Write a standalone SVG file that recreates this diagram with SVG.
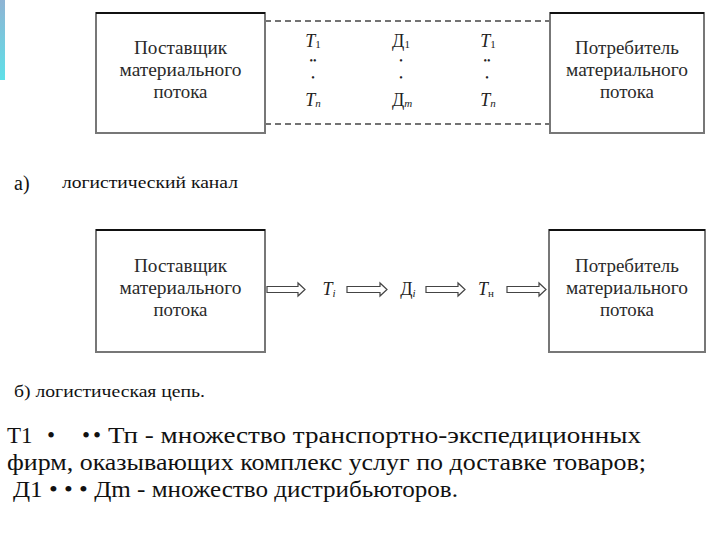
<svg xmlns="http://www.w3.org/2000/svg" width="720" height="540" viewBox="0 0 720 540">
<defs>
<linearGradient id="bar" x1="0" y1="0" x2="0" y2="1">
<stop offset="0" stop-color="#8fb4d4"/>
<stop offset="1" stop-color="#5fe0e8"/>
</linearGradient>
<style>
.box{fill:#fff;stroke:#777;stroke-width:2}
.boxtop{stroke:#111;stroke-width:2}
.dash{stroke:#444;stroke-width:1.5;stroke-dasharray:6 4;fill:none}
.arr{fill:#fff;stroke:#444;stroke-width:1.2}
.bt{font-family:"Liberation Serif",serif;font-size:19px;fill:#2a2a2a;text-anchor:middle}
.sym{font-family:"Liberation Serif",serif;font-size:18px;fill:#222;text-anchor:middle}
.dot{font-family:"Liberation Serif",serif;font-size:10px;fill:#222;text-anchor:middle}
.lbl{font-family:"Liberation Serif",serif;fill:#111}
.main{font-family:"Liberation Serif",serif;font-size:23px;fill:#111}
</style>
</defs>
<rect width="720" height="540" fill="#fff"/>
<rect x="0" y="0" width="5" height="80" fill="url(#bar)"/>

<g id="connectors">
<line class="dash" x1="265" y1="21" x2="549" y2="21"/>
<line class="dash" x1="265" y1="124" x2="549" y2="124"/>
<path class="arr" d="M267,286.5 H298 V283 L305,289.5 L298,296 V292.5 H267 Z"/>
<path class="arr" d="M347,286.5 H380 V283 L387,289.5 L380,296 V292.5 H347 Z"/>
<path class="arr" d="M426,286.5 H458 V283 L465,289.5 L458,296 V292.5 H426 Z"/>
<path class="arr" d="M507,286.5 H539 V283 L546,289.5 L539,296 V292.5 H507 Z"/>
</g>

<g id="supplier-a">
<rect class="box" x="96" y="13" width="169" height="120"/>
<line class="boxtop" x1="96" y1="13" x2="265" y2="13"/>
<text class="bt" x="180.5" y="54" textLength="93" lengthAdjust="spacingAndGlyphs">Поставщик</text>
<text class="bt" x="180.5" y="76" textLength="122" lengthAdjust="spacingAndGlyphs">материального</text>
<text class="bt" x="180.5" y="98" textLength="54" lengthAdjust="spacingAndGlyphs">потока</text>
</g>

<g id="consumer-a">
<rect class="box" x="550" y="13" width="154" height="120"/>
<line class="boxtop" x1="550" y1="13" x2="704" y2="13"/>
<text class="bt" x="627" y="54" textLength="104" lengthAdjust="spacingAndGlyphs">Потребитель</text>
<text class="bt" x="627" y="76" textLength="122" lengthAdjust="spacingAndGlyphs">материального</text>
<text class="bt" x="627" y="98" textLength="54" lengthAdjust="spacingAndGlyphs">потока</text>
</g>

<g id="middle-a">
<text class="sym" x="313" y="47"><tspan font-style="italic">T</tspan><tspan font-size="11" dy="1">1</tspan></text>
<text class="dot" x="313" y="64">••</text>
<text class="dot" x="313" y="81">•</text>
<text class="sym" x="313" y="106"><tspan font-style="italic">T</tspan><tspan font-size="11" font-style="italic" dy="1">n</tspan></text>
<text class="sym" x="401" y="47">Д<tspan font-size="11" dy="1">1</tspan></text>
<text class="dot" x="401" y="64">•</text>
<text class="dot" x="401" y="81">•</text>
<text class="sym" x="402" y="106">Д<tspan font-size="11" font-style="italic" dy="1">m</tspan></text>
<text class="sym" x="488" y="47"><tspan font-style="italic">T</tspan><tspan font-size="11" dy="1">1</tspan></text>
<text class="dot" x="487" y="64">••</text>
<text class="dot" x="487" y="81">•</text>
<text class="sym" x="488" y="106"><tspan font-style="italic">T</tspan><tspan font-size="11" font-style="italic" dy="1">n</tspan></text>
</g>

<g id="label-a">
<text class="lbl" x="14" y="190" font-size="20">а)</text>
<text class="lbl" x="62" y="188" font-size="17" textLength="176" lengthAdjust="spacingAndGlyphs">логистический канал</text>
</g>

<g id="supplier-b">
<rect class="box" x="96" y="230" width="169" height="122"/>
<line class="boxtop" x1="96" y1="230" x2="265" y2="230"/>
<text class="bt" x="180.5" y="272" textLength="93" lengthAdjust="spacingAndGlyphs">Поставщик</text>
<text class="bt" x="180.5" y="294" textLength="122" lengthAdjust="spacingAndGlyphs">материального</text>
<text class="bt" x="180.5" y="316" textLength="54" lengthAdjust="spacingAndGlyphs">потока</text>
</g>

<g id="t-i">
<text class="sym" x="329" y="295"><tspan font-style="italic">T</tspan><tspan font-size="11" font-style="italic" dy="2">i</tspan></text>
</g>
<g id="d-i">
<text class="sym" x="408" y="295">Д<tspan font-size="11" font-style="italic" dy="2">i</tspan></text>
</g>
<g id="t-n">
<text class="sym" x="486" y="295"><tspan font-style="italic">T</tspan><tspan font-size="11" dy="2">н</tspan></text>
</g>

<g id="consumer-b">
<rect class="box" x="549" y="230" width="156" height="122"/>
<line class="boxtop" x1="549" y1="230" x2="705" y2="230"/>
<text class="bt" x="627" y="272" textLength="104" lengthAdjust="spacingAndGlyphs">Потребитель</text>
<text class="bt" x="627" y="294" textLength="122" lengthAdjust="spacingAndGlyphs">материального</text>
<text class="bt" x="627" y="316" textLength="54" lengthAdjust="spacingAndGlyphs">потока</text>
</g>

<g id="caption">
<text class="lbl" x="14" y="397" font-size="16" textLength="191" lengthAdjust="spacingAndGlyphs">б) логистическая цепь.</text>
<text class="main" x="7" y="443">Т1</text>
<text class="main" x="47" y="443">•</text>
<text class="main" x="82" y="443">•</text>
<text class="main" x="93" y="443">•</text>
<text class="main" x="108" y="443" textLength="533" lengthAdjust="spacingAndGlyphs">Тп  -  множество  транспортно-экспедиционных</text>
<text class="main" x="7" y="470" textLength="639" lengthAdjust="spacingAndGlyphs">фирм, оказывающих комплекс  услуг по доставке товаров;</text>
<text class="main" x="13" y="497" textLength="445" lengthAdjust="spacingAndGlyphs">Д1 • • • Дm - множество дистрибьюторов.</text>
</g>
</svg>
